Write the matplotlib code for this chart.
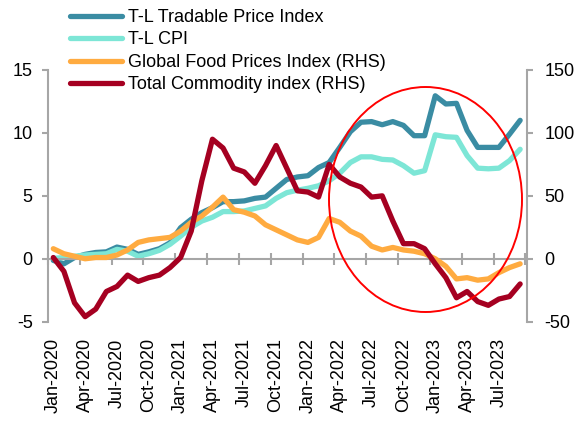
import numpy as np
import matplotlib.pyplot as plt
from matplotlib.patches import Ellipse

plt.rcParams['font.family'] = ['Liberation Sans', 'DejaVu Sans']
plt.rcParams['axes.unicode_minus'] = False

# Monatsdaten Jan-2020 .. Sep-2023
months = np.arange(45)
tick_labels = ['Jan-2020', 'Apr-2020', 'Jul-2020', 'Oct-2020',
               'Jan-2021', 'Apr-2021', 'Jul-2021', 'Oct-2021',
               'Jan-2022', 'Apr-2022', 'Jul-2022', 'Oct-2022',
               'Jan-2023', 'Apr-2023', 'Jul-2023']

# LHS
tradable = [-0.13, -0.4, 0.1, 0.35, 0.5, 0.55, 0.93, 0.75, 0.35, 0.55,
            0.8, 1.27, 2.47, 3.14, 3.67, 4.06, 4.54, 4.54, 4.6, 4.8,
            4.9, 5.6, 6.3, 6.5, 6.6, 7.25, 7.65, 8.85, 10.1, 10.85,
            10.9, 10.65, 10.9, 10.6, 9.78, 9.78, 12.95, 12.3, 12.35, 10.2,
            8.85, 8.85, 8.85, 9.9, 11.0]
cpi = [0.03, 0.1, 0.2, 0.3, 0.35, 0.4, 0.75, 0.6, 0.2, 0.4,
       0.67, 1.15, 1.8, 2.5, 3.0, 3.3, 3.75, 3.75, 3.8, 4.0,
       4.2, 4.8, 5.25, 5.45, 5.6, 5.8, 6.2, 6.8, 7.65, 8.1,
       8.1, 7.9, 7.85, 7.4, 6.8, 7.0, 9.85, 9.7, 9.65, 8.2,
       7.2, 7.15, 7.2, 7.8, 8.7]

# RHS
food = [8, 4, 2, 0, 1, 1, 3, 7, 13, 15,
        16, 17, 22, 29, 34, 41, 49, 39, 37, 34,
        27, 23, 19, 15, 13, 17, 32, 29, 22, 18,
        10, 7, 9, 7, 6, 4, 0, -6, -16, -15,
        -17, -16, -11, -7, -4]
commodity = [1, -10, -35, -46, -40, -26, -22, -13, -18, -15,
             -13, -7, 1, 22, 62, 95, 88, 72, 69, 60,
             74, 90, 72, 54, 53, 49, 75, 65, 60, 57,
             49, 50, 30, 12, 12, 8, -4, -15, -31, -26,
             -34, -37, -32, -30, -20]

grey = '#A6A6A6'
lw = 3.8

fig = plt.figure(figsize=(5.76, 4.23), dpi=100)
ax = fig.add_axes([48 / 576, 1 - 321.7 / 423, 478.5 / 576, 251.7 / 423])
ax2 = ax.twinx()

l1, = ax.plot(months, tradable, color='#3A8CA3', lw=lw, solid_capstyle='round')
l2, = ax.plot(months, cpi, color='#7DE6D6', lw=lw, solid_capstyle='round')
l3, = ax2.plot(months, food, color='#FFAB40', lw=lw, solid_capstyle='round')
l4, = ax2.plot(months, commodity, color='#A50021', lw=lw, solid_capstyle='round')

ax.set_xlim(-0.5, 44.6)
ax.set_ylim(-5, 15)
ax.set_yticks([-5, 0, 5, 10, 15])
ax2.set_ylim(-50, 150)
ax2.set_yticks([-50, 0, 50, 100, 150])

# Achsen / Rahmen
for s in ['top', 'right']:
    ax.spines[s].set_visible(False)
for s in ['top', 'left', 'bottom']:
    ax2.spines[s].set_visible(False)
ax.spines['left'].set_color(grey)
ax.spines['left'].set_linewidth(1.5)
ax2.spines['right'].set_color(grey)
ax2.spines['right'].set_linewidth(1.5)
ax.spines['bottom'].set_position(('data', 0))
ax.spines['bottom'].set_color(grey)
ax.spines['bottom'].set_linewidth(1.5)

ax.set_xticks(np.arange(-0.5, 45, 3))
ax.tick_params(axis='x', direction='inout', length=9, width=1.5, color=grey,
               labelbottom=False)
ax.tick_params(axis='y', length=4, width=1.5, color=grey, pad=7, labelsize=13)
ax2.tick_params(axis='y', length=4, width=1.5, color=grey, pad=9, labelsize=13)

sec = ax.secondary_xaxis('bottom')
sec.set_xticks(np.arange(0, 45, 3), tick_labels)
sec.tick_params(length=0, pad=12, labelsize=13, labelrotation=90)
sec.spines['bottom'].set_visible(False)

fig.legend([l1, l2, l3, l4],
           ['T-L Tradable Price Index', 'T-L CPI',
            'Global Food Prices Index (RHS)', 'Total Commodity index (RHS)'],
           loc='upper left', bbox_to_anchor=(70 / 576, 1 - 9 / 423),
           frameon=False, fontsize=13, handlelength=2.9, handletextpad=0.3,
           labelspacing=0.3, borderpad=0, borderaxespad=0)

# Markierung
fig.add_artist(Ellipse((425.5 / 576, 1 - 199.5 / 423), 193 / 576, 225 / 423,
                       transform=fig.transFigure, fill=False,
                       edgecolor='#FF0000', lw=1.4))

fig.savefig('out.png', dpi=100)
